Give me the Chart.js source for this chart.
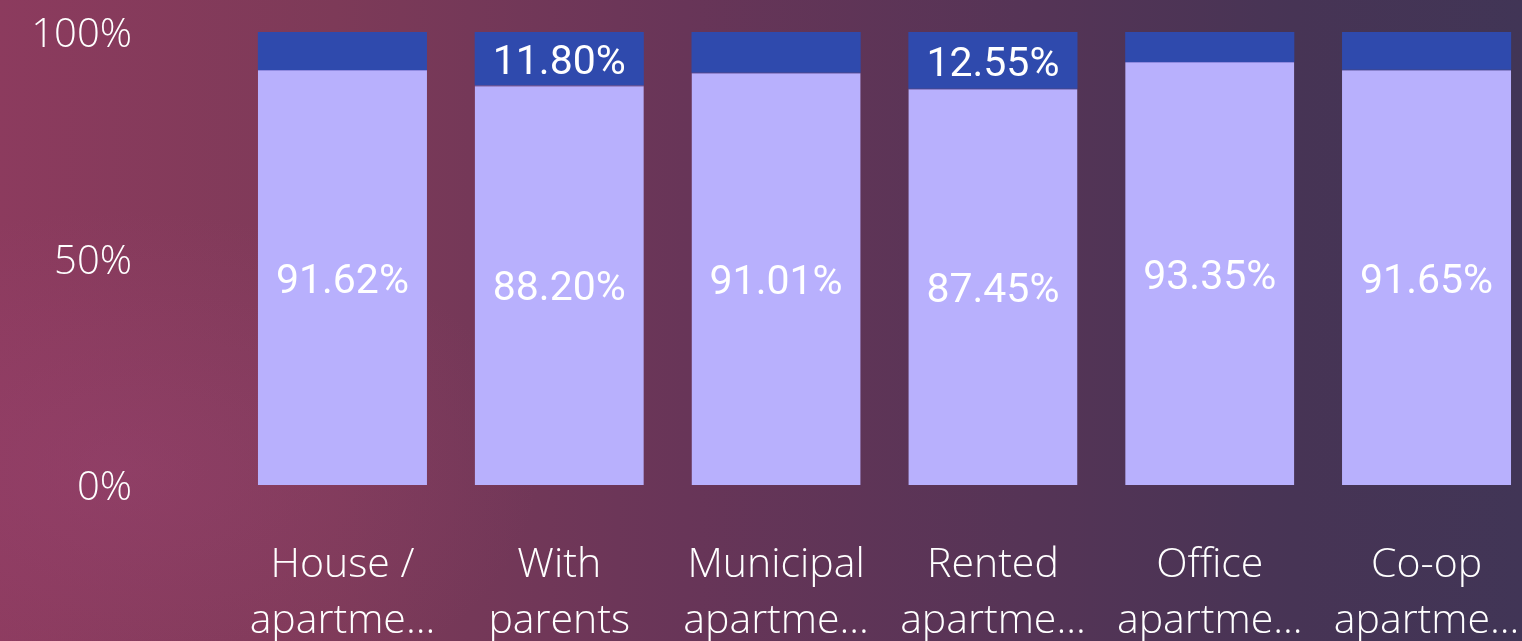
<!DOCTYPE html>
<html>
<head>
<meta charset="utf-8">
<script src="https://cdn.jsdelivr.net/npm/chart.js@4"></script>
<style>
  html, body { margin: 0; padding: 0; overflow: hidden; }
  body {
    width: 1522px; height: 641px;
    background:
      radial-gradient(ellipse 420px 260px at 120px 470px, rgba(160, 70, 120, 0.35), rgba(160, 70, 120, 0) 100%),
      linear-gradient(90deg, #8c3b5e 0%, #7d3a58 22%, #683558 45%, #553456 68%, #473455 85%, #413556 100%);
  }
  #wrap { position: relative; width: 1535px; height: 641px; }
</style>
</head>
<body>
<div id="wrap"><canvas id="chart"></canvas></div>
<script>
// DATA
const categories = [
  ["House /", "apartme..."],
  ["With", "parents"],
  ["Municipal", "apartme..."],
  ["Rented", "apartme..."],
  ["Office", "apartme..."],
  ["Co-op", "apartme..."]
];
const lowerValues = [91.62, 88.20, 91.01, 87.45, 93.35, 91.65];
const upperValues = [8.38, 11.80, 8.99, 12.55, 6.65, 8.35];
const yTicks = [0, 50, 100];

const labelFont = "'Segoe UI', 'Open Sans', sans-serif";
const valueFont = "Roboto, 'DejaVu Sans', sans-serif";

// labels drawn in the middle of each segment, skipped when too small
const segmentLabels = {
  id: "segmentLabels",
  afterDatasetsDraw(chart) {
    const ctx = chart.ctx;
    ctx.save();
    ctx.fillStyle = "#ffffff";
    ctx.font = "41px " + valueFont;
    ctx.textAlign = "center";
    ctx.textBaseline = "middle";
    chart.data.datasets.forEach((ds, di) => {
      chart.getDatasetMeta(di).data.forEach((bar, i) => {
        const h = Math.abs(bar.base - bar.y);
        if (h < 50) return;
        const txt = ds.data[i].toFixed(2) + "%";
        ctx.fillText(txt, bar.x, (bar.y + bar.base) / 2 + 5);
      });
    });
    ctx.restore();
  }
};

new Chart(document.getElementById("chart"), {
  type: "bar",
  data: {
    labels: categories,
    datasets: [
      {
        data: lowerValues,
        backgroundColor: "#b8b0fd",
        borderColor: "#8f8ae0",
        borderWidth: { top: 1, left: 0, right: 0, bottom: 0 },
        borderSkipped: false,
        barPercentage: 0.78,
        categoryPercentage: 1
      },
      {
        data: upperValues,
        backgroundColor: "#2f4aad",
        borderWidth: 0,
        barPercentage: 0.78,
        categoryPercentage: 1
      }
    ]
  },
  options: {
    responsive: true,
    maintainAspectRatio: false,
    animation: false,
    layout: { padding: { top: 32, right: 0, left: 0, bottom: 0 } },
    plugins: { legend: { display: false }, tooltip: { enabled: false } },
    scales: {
      x: {
        stacked: true,
        grid: { display: false },
        border: { display: false },
        ticks: {
          color: "#ffffff",
          font: { family: labelFont, size: 41, weight: 300, lineHeight: 1.37 },
          padding: 44,
          maxRotation: 0,
          autoSkip: false
        },
        afterFit: (s) => {
          s.height = 156;
          s.paddingLeft = 0;
          s.paddingRight = 0;
        }
      },
      y: {
        stacked: true,
        min: 0,
        max: 100,
        grid: { display: false },
        border: { display: false },
        afterBuildTicks: (s) => { s.ticks = yTicks.map((v) => ({ value: v })); },
        ticks: {
          color: "#ffffff",
          font: { family: labelFont, size: 40, weight: 300 },
          padding: 94,
          labelOffset: 4,
          callback: (v) => v + "%"
        },
        afterFit: (s) => {
          s.width = 234;
          s.paddingTop = 0;
          s.paddingBottom = 0;
        }
      }
    }
  },
  plugins: [segmentLabels]
});
</script>
</body>
</html>
